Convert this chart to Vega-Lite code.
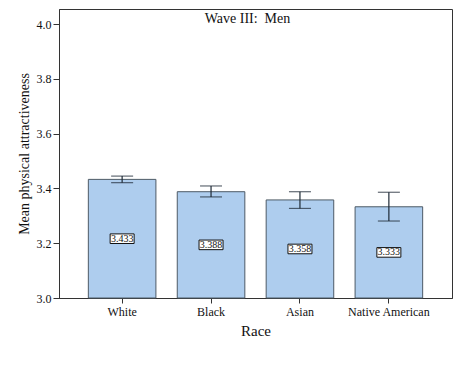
{
  "$schema": "https://vega.github.io/schema/vega-lite/v6.json",
  "autosize": "none",
  "width": 393,
  "height": 289,
  "padding": {"left": 59, "top": 9, "right": 8, "bottom": 70},
  "background": "white",
  "title": {"text": "Wave III:\u00a0 Men", "offset": -17, "dx": -8, "font": "Liberation Serif", "fontSize": 14, "fontWeight": "normal", "color": "#111"},
  "config": {
    "view": {"stroke": "#333", "strokeWidth": 1},
    "axis": {"labelFont": "Liberation Serif", "titleFont": "Liberation Serif", "labelColor": "#111", "titleColor": "#111", "domainColor": "#333", "tickColor": "#333", "titleFontWeight": "normal", "grid": false}
  },
  "data": {"values": [
    {"race": "White", "mean": 3.433, "lo": 3.421, "hi": 3.445, "label": "3.433"},
    {"race": "Black", "mean": 3.388, "lo": 3.369, "hi": 3.409, "label": "3.388"},
    {"race": "Asian", "mean": 3.358, "lo": 3.327, "hi": 3.388, "label": "3.358"},
    {"race": "Native American", "mean": 3.333, "lo": 3.281, "hi": 3.386, "label": "3.333"}
  ]},
  "transform": [{"calculate": "(3 + datum.mean) / 2", "as": "mid"}],
  "encoding": {
    "x": {"field": "race", "type": "nominal", "sort": null,
      "scale": {"paddingInner": 0.24, "paddingOuter": 0.33},
      "axis": {"title": "Race", "labelAngle": 0, "labelFontSize": 12, "titleFontSize": 15, "tickSize": 5, "labelPadding": 3, "titlePadding": 6}}
  },
  "layer": [
    {"mark": {"type": "bar", "fill": "#aecdee", "stroke": "#4d5a66", "strokeWidth": 1},
     "encoding": {"y": {"field": "mean", "type": "quantitative", "scale": {"domain": [3.0, 4.055], "nice": false, "zero": false},
       "axis": {"title": "Mean physical attractiveness", "values": [3.0, 3.2, 3.4, 3.6, 3.8, 4.0], "format": ".1f", "labelFontSize": 12, "titleFontSize": 14, "tickSize": 6, "labelPadding": 2, "titlePadding": 5}},
       "y2": {"datum": 3.0}}},
    {"mark": {"type": "rule", "color": "#1e2a36", "strokeWidth": 1.2},
     "encoding": {"y": {"field": "lo", "type": "quantitative"}, "y2": {"field": "hi"}}},
    {"mark": {"type": "tick", "color": "#1e2a36", "size": 22, "thickness": 1.2},
     "encoding": {"y": {"field": "lo", "type": "quantitative"}}},
    {"mark": {"type": "tick", "color": "#1e2a36", "size": 22, "thickness": 1.2},
     "encoding": {"y": {"field": "hi", "type": "quantitative"}}},
    {"mark": {"type": "point", "shape": "M-1,-0.4H1V0.4H-1Z", "size": 576, "filled": true, "fill": "white", "stroke": "#111", "strokeWidth": 1, "opacity": 1},
     "encoding": {"y": {"field": "mid", "type": "quantitative"}}},
    {"mark": {"type": "text", "font": "Liberation Serif", "fontSize": 10, "color": "#111", "baseline": "middle"},
     "encoding": {"y": {"field": "mid", "type": "quantitative"}, "text": {"field": "label"}}}
  ]
}
